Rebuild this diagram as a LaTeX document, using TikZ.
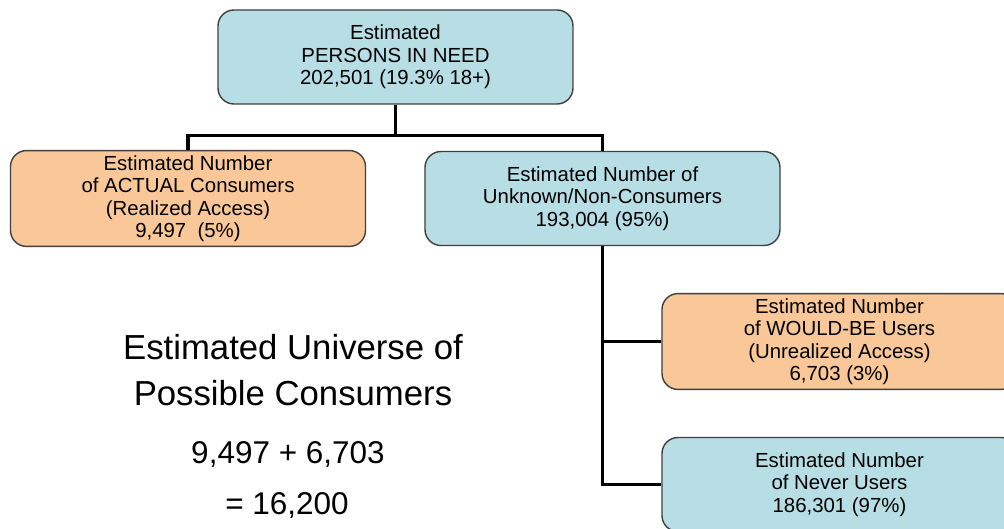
\documentclass[tikz,border=0pt]{standalone}
\usepackage{fontspec}
\setmainfont{Liberation Sans}
\usepackage{tikz}
\usetikzlibrary{shapes,arrows}
\definecolor{boxteal}{HTML}{B7DEE4}
\definecolor{boxorange}{HTML}{FAC898}
\definecolor{boxline}{HTML}{404040}
\begin{document}
\begin{tikzpicture}[node distance=3.5375cm]
    \tikzstyle{cell}=[rectangle,rounded corners=0.4cm,draw=boxline,line width=1pt,
        minimum width=8.875cm,minimum height=2.35cm,align=center,
        font=\fontsize{14.5}{16}\selectfont]
    \tikzstyle{need}=[cell,fill=boxteal]
    \tikzstyle{used}=[cell,fill=boxorange]
    \tikzstyle{link}=[line width=2.2pt,black]
    \tikzstyle{big}=[align=center,font=\fontsize{24.7}{32.7}\selectfont]
    \tikzstyle{sum}=[font=\fontsize{22.4}{30}\selectfont]

    \useasboundingbox (-9.8875,1.425) rectangle (15.2125,-11.8);
    \clip (-9.8875,1.425) rectangle (15.2125,-11.8);

    \node(top)     [need] {Estimated\\PERSONS IN NEED\\202,501 (19.3\% 18+)};
    \node(actual)  [used,below of=top,xshift=-5.1875cm] {Estimated Number\\of ACTUAL Consumers\\(Realized Access)\\9,497\ \ (5\%)};
    \node(unknown) [need,below of=top,xshift=5.175cm] {Estimated Number of\\Unknown/Non-Consumers\\193,004 (95\%)};
    \node(wouldbe) [used,below of=unknown,node distance=3.575cm,xshift=5.925cm] {Estimated Number\\of WOULD-BE Users\\(Unrealized Access)\\6,703 (3\%)};
    \node(never)   [need,below of=wouldbe,node distance=3.575cm] {Estimated Number\\of Never Users\\186,301 (97\%)};

    \node(universe) [big,below of=actual,node distance=4.29cm,xshift=2.625cm] {Estimated Universe of\\Possible Consumers};
    \node(total)    [sum,below of=actual,node distance=6.4cm,xshift=2.5cm] {9,497 + 6,703};
    \node(result)   [sum,below of=actual,node distance=7.68cm,xshift=2.475cm] {= 16,200};

    \draw [link] (top.south) -- ++(0,-0.775) -| (actual.north);
    \draw [link] (top.south) -- ++(0,-0.775) -| (unknown.north);
    \draw [link] (unknown.south) |- (wouldbe.west);
    \draw [link] (unknown.south) |- (never.west);

\end{tikzpicture}
\end{document}
